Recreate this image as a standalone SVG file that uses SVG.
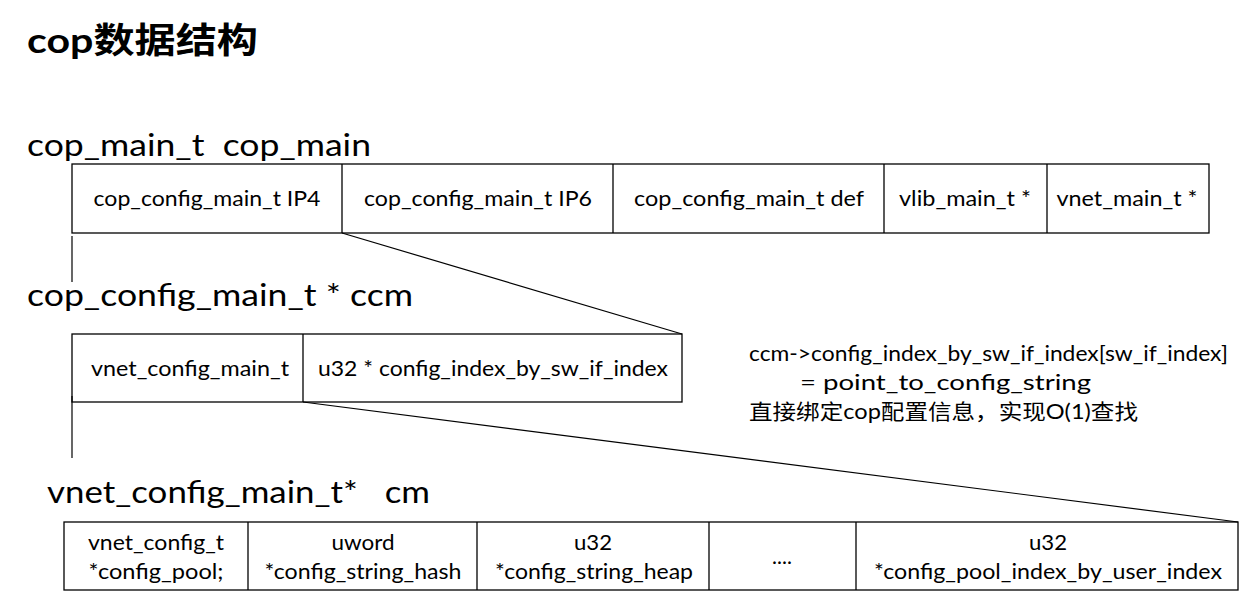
<svg xmlns="http://www.w3.org/2000/svg" width="1247" height="599" viewBox="0 0 1247 599">
<style>
text{font-family:Lato,"Noto Sans CJK SC",sans-serif;fill:#000;white-space:pre}
.title{font-size:35px;font-weight:bold}
.head{font-size:31px}
.cell{font-size:21px;text-anchor:middle}
.note{font-size:21px}
.box{fill:#fff;stroke:#000;stroke-width:1.3}
.div{stroke:#000;stroke-width:1.3}
.con{stroke:#000;stroke-width:1.2;fill:none}
</style>
<rect width="1247" height="599" fill="#fff"/>
<text class="title" x="27" y="53" textLength="231" lengthAdjust="spacingAndGlyphs">cop数据结构</text>

<g id="cop_main">
<text class="head" x="27" y="156" textLength="344" lengthAdjust="spacingAndGlyphs" xml:space="preserve">cop_main_t  cop_main</text>
<rect class="box" x="72" y="164" width="1137" height="69"/>
<line class="div" x1="342" y1="164" x2="342" y2="233"/>
<line class="div" x1="613" y1="164" x2="613" y2="233"/>
<line class="div" x1="884" y1="164" x2="884" y2="233"/>
<line class="div" x1="1047" y1="164" x2="1047" y2="233"/>
<text class="cell" x="207" y="206" textLength="227" lengthAdjust="spacingAndGlyphs">cop_config_main_t IP4</text>
<text class="cell" x="478" y="206" textLength="228" lengthAdjust="spacingAndGlyphs">cop_config_main_t IP6</text>
<text class="cell" x="749" y="206" textLength="230" lengthAdjust="spacingAndGlyphs">cop_config_main_t def</text>
<text class="cell" x="965" y="206" textLength="132" lengthAdjust="spacingAndGlyphs">vlib_main_t *</text>
<text class="cell" x="1127" y="206" textLength="141" lengthAdjust="spacingAndGlyphs">vnet_main_t *</text>
</g>

<g id="ccm">
<text class="head" x="27" y="306" textLength="386" lengthAdjust="spacingAndGlyphs">cop_config_main_t * ccm</text>
<rect class="box" x="72" y="334" width="610" height="68"/>
<line class="div" x1="303" y1="334" x2="303" y2="402"/>
<text class="cell" x="190" y="376" textLength="198" lengthAdjust="spacingAndGlyphs">vnet_config_main_t</text>
<text class="cell" x="493" y="376" textLength="350" lengthAdjust="spacingAndGlyphs">u32 * config_index_by_sw_if_index</text>
</g>

<g id="note">
<text class="note" x="749" y="361" textLength="479" lengthAdjust="spacingAndGlyphs">ccm-&gt;config_index_by_sw_if_index[sw_if_index]</text>
<text class="note" x="800" y="390" textLength="291" lengthAdjust="spacingAndGlyphs">= point_to_config_string</text>
<text class="note" x="749" y="419" textLength="389" lengthAdjust="spacingAndGlyphs">直接绑定cop配置信息，实现O(1)查找</text>
</g>

<g id="cm">
<text class="head" x="47" y="503" textLength="383" lengthAdjust="spacingAndGlyphs" xml:space="preserve">vnet_config_main_t*   cm</text>
<rect class="box" x="64" y="522" width="1174" height="68"/>
<line class="div" x1="248" y1="522" x2="248" y2="590"/>
<line class="div" x1="477" y1="522" x2="477" y2="590"/>
<line class="div" x1="709" y1="522" x2="709" y2="590"/>
<line class="div" x1="856" y1="522" x2="856" y2="590"/>
<text class="cell" x="156" y="550" textLength="136" lengthAdjust="spacingAndGlyphs">vnet_config_t</text>
<text class="cell" x="156" y="579" textLength="135" lengthAdjust="spacingAndGlyphs">*config_pool;</text>
<text class="cell" x="363" y="550" textLength="63" lengthAdjust="spacingAndGlyphs">uword</text>
<text class="cell" x="363" y="579" textLength="197" lengthAdjust="spacingAndGlyphs">*config_string_hash</text>
<text class="cell" x="593" y="550" textLength="38" lengthAdjust="spacingAndGlyphs">u32</text>
<text class="cell" x="594" y="579" textLength="198" lengthAdjust="spacingAndGlyphs">*config_string_heap</text>
<text class="cell" x="782" y="564">....</text>
<text class="cell" x="1048" y="550" textLength="38" lengthAdjust="spacingAndGlyphs">u32</text>
<text class="cell" x="1048" y="579" textLength="348" lengthAdjust="spacingAndGlyphs">*config_pool_index_by_user_index</text>
</g>

<g id="connectors">
<line class="con" x1="72" y1="236" x2="72" y2="282"/>
<line class="con" x1="342" y1="233" x2="682" y2="334"/>
<line class="con" x1="72" y1="396" x2="72" y2="458"/>
<line class="con" x1="303" y1="402" x2="1238" y2="522"/>
</g>
</svg>
